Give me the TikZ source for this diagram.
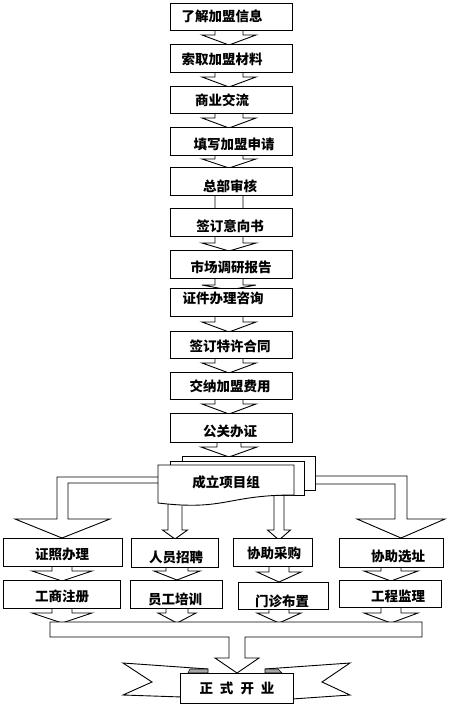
\documentclass[tikz,border=0pt]{standalone}
\usepackage{fontspec}
\newfontfamily\cjk{Noto Sans CJK SC}
\begin{document}
\begin{tikzpicture}[x=1pt,y=-1pt,line width=0.9pt,line join=miter,
  shp/.style={draw=black,fill=white},
  txt/.style={font=\cjk\bfseries\fontsize{13.5}{14}\selectfont,inner sep=0pt}]
\useasboundingbox (0,0) rectangle (462,709);
\fill[white] (0,0) rectangle (462,709);
% down block arrow: center, top, shaft half width, shaft end, head half width, tip
\newcommand\darr[6]{\draw[shp] ({#1-#3},#2) -- ({#1-#3},#4) -- ({#1-#5},#4) -- (#1,#6) -- ({#1+#5},#4) -- ({#1+#3},#4) -- ({#1+#3},#2) -- cycle;}
% box: name, x1,y1,x2,y2
\newcommand\bx[5]{\node[shp,anchor=north west,inner sep=0pt,minimum width={(#4-#2)*1pt},minimum height={(#5-#3)*1pt}] (#1) at (#2,#3) {};}
% top chain arrows
\darr{229}{28}{14}{35}{27}{45}
\darr{229}{70}{14}{77}{27}{87}
\darr{229}{111}{14}{118}{27}{128}
\darr{229}{153}{14}{159}{27}{168}
\darr{229}{193}{14}{209}{27}{215}
\darr{229}{234}{14}{243}{27}{251}
\darr{229}{276}{14}{285}{27}{290}
\darr{229}{314}{14}{322}{27}{332}
\darr{229}{356}{14}{363}{27}{373}
\darr{229}{397}{14}{404}{27}{414}
\darr{229}{440}{12}{447}{28}{457}
% branch arrows from project group
\draw[shp] (166,477) -- (57,477) -- (57,519) -- (15,519) -- (62,538) -- (110,519) -- (68,519) -- (68,483) -- (166,483);
\draw[shp] (305,476) -- (407,476) -- (407,519) -- (445,519) -- (401,538) -- (357,519) -- (395,519) -- (395,484) -- (305,484);
\darr{175}{495}{7}{530}{12.5}{539}
\darr{279}{490}{5}{530}{11.5}{540}
% row 2 -> row 3 arrows
\darr{62}{564}{10}{571}{30}{581}
\darr{177}{565}{11}{571}{23}{580}
\darr{279}{564}{10}{572}{22}{582}
\darr{391}{565}{10}{571}{27}{581}
% row 3 -> bar arrows
\darr{62}{606}{10}{613}{30}{623}
\darr{177}{606}{11}{613}{19}{623}
\darr{279}{607}{10}{613}{22}{623}
\darr{391}{605}{10}{613}{27}{623}
% top chain boxes
\bx{b1}{170}{3}{292}{30}
\bx{b2}{170}{44}{292}{72}
\bx{b3}{170}{86}{292}{113}
\bx{b4}{170}{127}{292}{155}
\bx{b5}{170}{167}{292}{195}
\bx{b6}{170}{208}{292}{236}
\bx{b7}{170}{250}{292}{278}
\bx{b8}{170}{288}{292}{316}
\bx{b9}{170}{331}{292}{358}
\bx{b10}{170}{372}{292}{399}
\bx{b11}{170}{413}{292}{442}
\node[txt] (t1) at (222,16) {了解加盟信息};
\node[txt] (t2) at (222,59) {索取加盟材料};
\node[txt] (t3) at (222,100) {商业交流};
\node[txt] (t4) at (234,144) {填写加盟申请};
\node[txt] (t5) at (230,186) {总部审核};
\node[txt] (t6) at (230,226) {签订意向书};
\node[txt] (t7) at (231,267) {市场调研报告};
\node[txt] (t8) at (223,298) {证件办理咨询};
\node[txt] (t9) at (230,346) {签订特许合同};
\node[txt] (t10) at (230,386) {交纳加盟费用};
\node[txt] (t11) at (230,431) {公关办证};
% project group (multi document)
\draw[shp] (182,456) rectangle (315,490);
\draw[shp] (170,461) rectangle (304,495);
\draw[shp] (158,465) -- (294,465) -- (294,495) .. controls (226,495) and (226,511) .. (158,503) -- cycle;
\node[txt] (pg) at (226,482) {成立项目组};
% row 2 boxes
\bx{r1}{3}{538}{122}{566}
\bx{r2}{131}{538}{218}{567}
\bx{r3}{233}{538}{312}{566}
\bx{r4}{339}{538}{443}{567}
\node[txt] (s1) at (62,554) {证照办理};
\node[txt] (s2) at (176,557) {人员招聘};
\node[txt] (s3) at (274,553) {协助采购};
\node[txt] (s4) at (398,556) {协助选址};
% row 3 boxes
\bx{q1}{3}{580}{120}{608}
\bx{q2}{130}{580}{222}{608}
\bx{q3}{238}{582}{328}{609}
\bx{q4}{339}{580}{441}{607}
\node[txt] (u1) at (62,596) {工商注册};
\node[txt] (u2) at (175,599) {员工培训};
\node[txt] (u3) at (282,601) {门诊布置};
\node[txt] (u4) at (398,596) {工程监理};
% ribbon tails
\draw[shp] (208,669) -- (123,663) -- (152,682) -- (123,695) -- (182,697);
\draw[shp] (265,669) -- (350,663) -- (322,682) -- (350,695) -- (292,699);
\draw[fill=black!35,line width=0.6pt] (188,673) -- (190,669) -- (208,669) -- (208,673) -- cycle;
\draw[fill=black!35,line width=0.6pt] (265,673) -- (265,669) -- (278,669) -- (282,673) -- cycle;
% bar with arrow
\draw[shp] (50,622) -- (422,622) -- (422,637) -- (245,637) -- (245,658) -- (259,658) -- (237,673) -- (215,658) -- (229,658) -- (229,637) -- (50,637) -- cycle;
% final box
\bx{fin}{180}{673}{293}{703}
\node[txt] (tf) at (237,688) {正\hspace{7pt}式\hspace{7pt}开\hspace{7pt}业};
\end{tikzpicture}
\end{document}
